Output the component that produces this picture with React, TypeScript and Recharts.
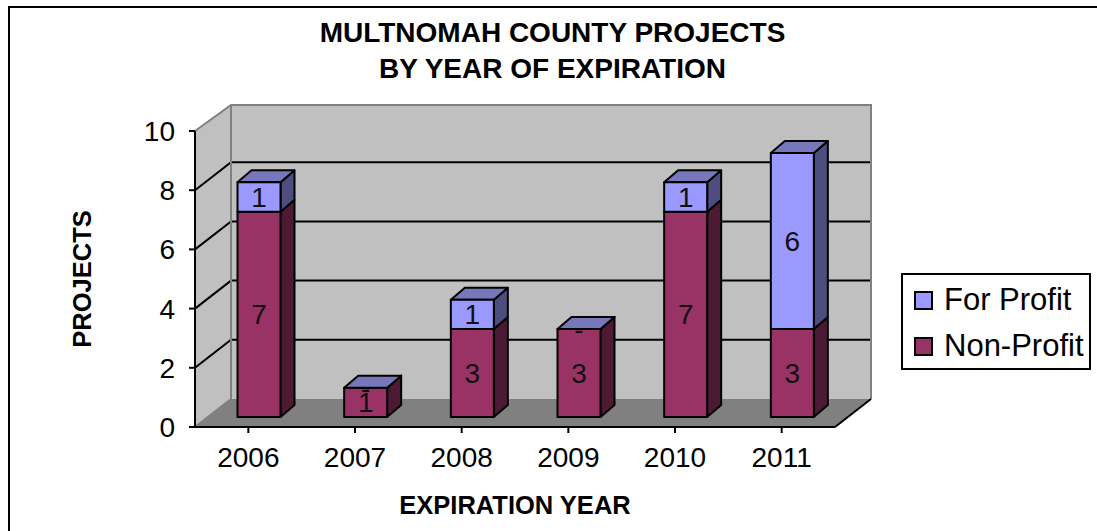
import { BarChart, Bar, XAxis, YAxis, Legend, LabelList, Label, usePlotArea } from 'recharts'

const years = ['2006', '2007', '2008', '2009', '2010', '2011']
const nonProfit = [7, 1, 3, 3, 7, 3]
const forProfit = [1, 0, 1, 0, 1, 6]
const yTicks = [0, 2, 4, 6, 8, 10]
const titleLines = ['MULTNOMAH COUNTY PROJECTS', 'BY YEAR OF EXPIRATION']

const data = years.map((year, i) => ({
  year,
  nonProfit: nonProfit[i],
  forProfit: forProfit[i],
}))

const FONT = '"Liberation Sans", Arial, sans-serif'

// how far the back wall sits behind the front plane, and the bars' own depth
const WALL_DX = 36
const WALL_DY = 28
const WALL_TOP_DY = 26
const BAR_DX = 14
const BAR_DY = 12
const BAR_SHIFT = 10.5

function Walls() {
  const plot = usePlotArea()
  if (!plot) return null
  const { x, y, width, height } = plot
  const bottom = y + height
  const right = x + width
  const backLeft = x + WALL_DX
  const backRight = right + WALL_DX
  const backTop = y - WALL_TOP_DY
  const backBottom = bottom - WALL_DY
  const yOf = (t: number) => bottom - (t / 10) * height

  return (
    <g>
      <polygon points={`${x},${bottom} ${backLeft},${backBottom} ${backLeft},${backTop} ${x},${y}`} fill="#c0c0c0" />
      <rect x={backLeft} y={backTop} width={width} height={backBottom - backTop} fill="#c0c0c0" />
      <polygon
        points={`${x},${bottom} ${right},${bottom} ${backRight},${backBottom} ${backLeft},${backBottom}`}
        fill="#808080"
      />
      {yTicks
        .filter((t) => t > 0 && t < 10)
        .map((t) => (
          <polyline
            key={t}
            points={`${x},${yOf(t)} ${backLeft},${yOf(t) - WALL_DY} ${backRight},${yOf(t) - WALL_DY}`}
            fill="none"
            stroke="#000"
            strokeWidth={2}
          />
        ))}
      <polyline
        points={`${x},${y} ${backLeft},${backTop} ${backRight},${backTop} ${backRight},${backBottom}`}
        fill="none"
        stroke="#808080"
        strokeWidth={2}
      />
      <polyline
        points={`${backLeft},${backTop} ${backLeft},${backBottom} ${x},${bottom}`}
        fill="none"
        stroke="#808080"
        strokeWidth={2}
      />
      <line x1={right} y1={bottom} x2={backRight} y2={backBottom} stroke="#000" strokeWidth={2} />
    </g>
  )
}

function Bar3D(props: any) {
  const { x, y, width, height, front, side, top } = props
  const left = x + BAR_SHIFT
  const right = left + width
  const bottom = y + height
  return (
    <g stroke="#000" strokeWidth={2} strokeLinejoin="round">
      <polygon
        points={`${right},${y} ${right + BAR_DX},${y - BAR_DY} ${right + BAR_DX},${bottom - BAR_DY} ${right},${bottom}`}
        fill={side}
      />
      {top && (
        <polygon
          points={`${left},${y} ${left + BAR_DX},${y - BAR_DY} ${right + BAR_DX},${y - BAR_DY} ${right},${y}`}
          fill={top}
        />
      )}
      {height > 0 && <rect x={left} y={y} width={width} height={height} fill={front} />}
    </g>
  )
}

function BarValue(props: any) {
  const { x, y, width, height, value } = props
  return (
    <text
      x={x + BAR_SHIFT + width / 2}
      y={y + height / 2 + 10}
      textAnchor="middle"
      fontFamily={FONT}
      fontSize={28}
      fill="#111"
    >
      {value === 0 ? '-' : value}
    </text>
  )
}

function LegendBox({ payload }: any) {
  return (
    <div
      style={{
        boxSizing: 'border-box',
        width: 190,
        height: 97,
        border: '2px solid #000',
        background: '#fff',
        padding: '2px 0 0 11px',
      }}
    >
      {(payload ?? []).map((item: any) => (
        <div
          key={item.value}
          style={{ display: 'flex', alignItems: 'center', height: 46, fontFamily: FONT, fontSize: 31, color: '#000' }}
        >
          <span
            style={{
              boxSizing: 'border-box',
              width: 19,
              height: 19,
              border: '2px solid #000',
              background: item.color,
              marginRight: 11,
            }}
          />
          {item.value}
        </div>
      ))}
    </div>
  )
}

export default function App() {
  return (
    <div
      style={{
        position: 'absolute',
        left: 0,
        top: 0,
        width: 1097,
        height: 531,
        background: '#fff',
      }}
    >
      <BarChart
        width={1097}
        height={531}
        data={data}
        margin={{ top: 131, right: 72, bottom: 0, left: 115 }}
        barSize={43}
      >
        <path d="M9 531V7H1097" fill="none" stroke="#000" strokeWidth={2} />
        <Walls />
        {titleLines.map((line, i) => (
          <text
            key={line}
            x={552.5}
            y={42 + i * 36}
            textAnchor="middle"
            fontFamily={FONT}
            fontWeight="bold"
            fontSize={28}
            fill="#000"
          >
            {line}
          </text>
        ))}
        <XAxis
          dataKey="year"
          height={104}
          tick={{ fontFamily: FONT, fontSize: 28, fill: '#000' }}
          tickLine={{ stroke: '#000', strokeWidth: 2 }}
          axisLine={{ stroke: '#000', strokeWidth: 2 }}
          tickSize={6}
          tickMargin={14}
          interval={0}
        >
          <Label
            value="EXPIRATION YEAR"
            position="insideBottom"
            offset={17}
            style={{ fontFamily: FONT, fontWeight: 'bold', fontSize: 25.5, fill: '#000' }}
          />
        </XAxis>
        <YAxis
          width={80}
          domain={[0, 10]}
          allowDataOverflow
          ticks={yTicks}
          tick={{ fontFamily: FONT, fontSize: 28, fill: '#000' }}
          tickLine={{ stroke: '#000', strokeWidth: 2 }}
          axisLine={{ stroke: '#000', strokeWidth: 2 }}
          tickSize={6}
          tickMargin={14}
        >
          <Label
            value="PROJECTS"
            angle={-90}
            position="insideLeft"
            offset={-33}
            style={{ fontFamily: FONT, fontWeight: 'bold', fontSize: 25.5, fill: '#000', textAnchor: 'middle' }}
          />
        </YAxis>
        {/* bars stand a little in front of the back wall, so they get their own hidden scale */}
        <YAxis yAxisId="bars" hide domain={[-0.341, 9.75]} allowDataOverflow />
        <Legend
          verticalAlign="top"
          align="right"
          layout="vertical"
          content={<LegendBox />}
          wrapperStyle={{ left: 901, top: 273, width: 190, height: 97 }}
        />
        <Bar
          yAxisId="bars"
          dataKey="nonProfit"
          name="Non-Profit"
          stackId="a"
          fill="#993366"
          isAnimationActive={false}
          shape={<Bar3D front="#993366" side="#4d1a33" />}
        >
          <LabelList dataKey="nonProfit" content={<BarValue />} />
        </Bar>
        <Bar
          yAxisId="bars"
          dataKey="forProfit"
          name="For Profit"
          stackId="a"
          fill="#9999ff"
          isAnimationActive={false}
          shape={<Bar3D front="#9999ff" side="#4d4d80" top="#7777bb" />}
        >
          <LabelList dataKey="forProfit" content={<BarValue />} />
        </Bar>
      </BarChart>
    </div>
  )
}
